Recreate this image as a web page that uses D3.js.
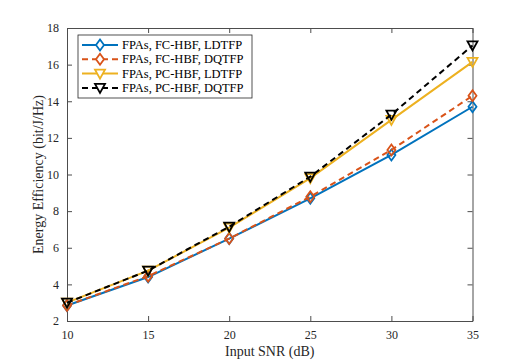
<!DOCTYPE html>
<html>
<head>
<meta charset="utf-8">
<script src="https://cdn.jsdelivr.net/npm/d3@7"></script>
<style>
  body { margin: 0; background: #fff; }
  svg text { font-family: "Liberation Serif", "Times New Roman", Times, serif !important; }
</style>
</head>
<body>
<div id="chart"></div>
<script>
// chart data
const snr = [10, 15, 20, 25, 30, 35];
const fcLdtfp = [2.85, 4.4, 6.5, 8.7, 11.07, 13.7];
const fcDqtfp = [2.85, 4.45, 6.5, 8.79, 11.34, 14.3];
const pcLdtfp = [3.0, 4.75, 7.1, 9.8, 12.98, 16.15];
const pcDqtfp = [3.0, 4.75, 7.15, 9.88, 13.27, 17.05];
const seriesNames = ["FPAs, FC-HBF, LDTFP", "FPAs, FC-HBF, DQTFP", "FPAs, PC-HBF, LDTFP", "FPAs, PC-HBF, DQTFP"];
const xTicks = [10, 15, 20, 25, 30, 35];
const yTicks = [2, 4, 6, 8, 10, 12, 14, 16, 18];

const width = 523;
const height = 361;
const margin = {left: 67, right: 50, top: 28, bottom: 40};

const series = [
  {name: seriesNames[0], values: fcLdtfp, color: "#0072BD", dash: null, marker: "diamond"},
  {name: seriesNames[1], values: fcDqtfp, color: "#D95319", dash: "6,4", marker: "diamond"},
  {name: seriesNames[2], values: pcLdtfp, color: "#EDB120", dash: null, marker: "tri"},
  {name: seriesNames[3], values: pcDqtfp, color: "#000000", dash: "6,4", marker: "tri"}
];

const svg = d3.select("#chart").append("svg")
  .attr("width", width)
  .attr("height", height);

const x = d3.scaleLinear().domain([10, 35]).range([margin.left, width - margin.right - 0.5]);
const y = d3.scaleLinear().domain([2, 18]).range([height - margin.bottom, margin.top]);

const axisColor = "#4d4d4d";

// box with inward ticks on all sides
const addAxis = (axis, transform) => {
  const g = svg.append("g").attr("transform", transform).call(axis);
  g.attr("font-family", null);
  g.select(".domain").attr("stroke", axisColor);
  g.selectAll(".tick line").attr("stroke", axisColor);
  g.selectAll("text").attr("fill", "#262626").attr("font-size", "12px");
  return g;
};

addAxis(d3.axisBottom(x).tickValues(xTicks).tickSize(-5).tickPadding(9).tickSizeOuter(0),
  `translate(0,${y(2)})`);
addAxis(d3.axisTop(x).tickValues(xTicks).tickSize(-5).tickSizeOuter(0).tickFormat(""),
  `translate(0,${y(18)})`);
addAxis(d3.axisLeft(y).tickValues(yTicks).tickSize(-5).tickPadding(8).tickSizeOuter(0),
  `translate(${x(10)},0)`);
addAxis(d3.axisRight(y).tickValues(yTicks).tickSize(-5).tickSizeOuter(0).tickFormat(""),
  `translate(${x(35)},0)`);

// axis labels
svg.append("text")
  .attr("x", (x(10) + x(35)) / 2)
  .attr("y", height - 5)
  .attr("text-anchor", "middle")
  .attr("font-size", "14px")
  .attr("fill", "#262626")
  .text("Input SNR (dB)");

svg.append("text")
  .attr("transform", `translate(${43},${(y(2) + y(18)) / 2}) rotate(-90)`)
  .attr("text-anchor", "middle")
  .attr("font-size", "14px")
  .attr("fill", "#262626")
  .text("Energy Efficiency (bit/J/Hz)");

// marker paths
const markerPath = (type) => type === "diamond"
  ? "M0,-5.5L4,0L0,5.5L-4,0Z"
  : "M-5,-4L5,-4L0,5Z";

const line = d3.line().x((d, i) => x(snr[i])).y(d => y(d));

series.forEach(s => {
  svg.append("path")
    .datum(s.values)
    .attr("d", line)
    .attr("fill", "none")
    .attr("stroke", s.color)
    .attr("stroke-width", 2)
    .attr("stroke-dasharray", s.dash);

  svg.selectAll(null)
    .data(s.values)
    .enter()
    .append("path")
      .attr("transform", (d, i) => `translate(${x(snr[i])},${y(d)})`)
      .attr("d", markerPath(s.marker))
      .attr("fill", "none")
      .attr("stroke", s.color)
      .attr("stroke-width", 1.8);
});

// legend
const legend = svg.append("g").attr("transform", "translate(78,35)");
legend.append("rect")
  .attr("width", 174)
  .attr("height", 63)
  .attr("fill", "#fff")
  .attr("stroke", "#262626")
  .attr("stroke-width", 0.8);

series.forEach((s, i) => {
  const ly = 10 + i * 14.3;
  legend.append("line")
    .attr("x1", 4).attr("x2", 40)
    .attr("y1", ly).attr("y2", ly)
    .attr("stroke", s.color)
    .attr("stroke-width", 2)
    .attr("stroke-dasharray", s.dash);
  legend.append("path")
    .attr("transform", `translate(22,${ly})`)
    .attr("d", markerPath(s.marker))
    .attr("fill", "#fff")
    .attr("stroke", s.color)
    .attr("stroke-width", 1.8);
  legend.append("text")
    .attr("x", 44)
    .attr("y", ly + 4)
    .attr("font-size", "12.5px")
    .attr("fill", "#000")
    .text(s.name);
});
</script>
</body>
</html>
